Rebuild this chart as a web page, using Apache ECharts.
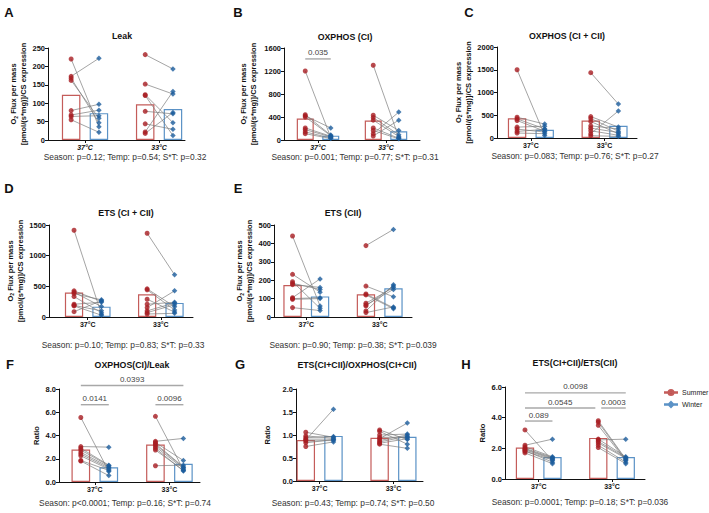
<!DOCTYPE html>
<html>
<head>
<meta charset="utf-8">
<script src="https://cdn.jsdelivr.net/npm/echarts@6/dist/echarts.min.js"></script>
<style>
html, body { margin: 0; padding: 0; background: #fff; }
#main { width: 709px; height: 513px; }
</style>
</head>
<body>
<div id="main"></div>
<script>
// categories
var cats = ['37°C', '33°C'];

// A - Leak (paired: summer[i] -> winter[i])
var summer37A = [220, 173, 168, 162, 80, 68, 64, 55];
var winter37A = [36, 222, 47, 59, 97, 81, 66, 21];
var summer33A = [232, 152, 123, 121, 78, 44, 22, 18];
var winter33A = [193, 125, 47, 12, 71, 29, 132, 75];
var barSummerA = [123, 97];
var barWinterA = [73, 84];

// B - OXPHOS (CI)
var summer37B = [1200, 440, 420, 400, 210, 180, 140, 110];
var winter37B = [45, 85, 210, 75, 65, 55, 35, 25];
var summer33B = [1300, 430, 390, 345, 210, 165, 110, 70];
var winter33B = [45, 165, 90, 60, 30, 20, 485, 345];
var barSummerB = [375, 340];
var barWinterB = [76, 150];

// C - OXPHOS (CI + CII)
var summer37C = [1500, 457, 420, 384, 239, 196, 145, 109];
var winter37C = [55, 305, 200, 150, 260, 130, 190, 95];
var summer33C = [1435, 471, 428, 362, 268, 217, 159, 94, 51];
var winter33C = [745, 240, 150, 95, 200, 120, 60, 595, 35];
var barSummerC = [435, 384];
var barWinterC = [181, 268];

// D - ETS (CI + CII)
var summer37D = [1415, 426, 404, 380, 333, 208, 190, 180, 87];
var winter37D = [45, 255, 170, 280, 70, 240, 100, 30, 265];
var summer33D = [1366, 459, 443, 290, 208, 153, 100, 71, 49];
var winter33D = [689, 169, 115, 80, 240, 426, 230, 200, 60];
var barSummerD = [400, 372];
var barWinterD = [169, 230];

// E - ETS (CII)
var summer37E = [440, 232, 192, 183, 176, 105, 100, 96, 51];
var winter37E = [60, 135, 47, 150, 161, 207, 105, 100, 35];
var summer33E = [388, 168, 125, 120, 75, 65, 60, 33, 24];
var winter33E = [476, 110, 50, 45, 160, 150, 168, 175, 55];
var barSummerE = [174, 123];
var barWinterE = [112, 156];

// F - OXPHOS(CI)/Leak
var summer37F = [5.55, 3.05, 2.9, 2.75, 2.55, 2.4, 2.25, 1.85, 1.8];
var winter37F = [0.9, 3.0, 1.45, 1.4, 1.3, 1.2, 1.1, 1.0, 0.55];
var summer33F = [5.65, 3.5, 3.4, 3.3, 3.2, 3.05, 2.9, 2.75, 1.4];
var winter33F = [1.05, 3.75, 1.85, 1.3, 1.25, 1.15, 0.95, 1.0, 1.45];
var barSummerF = [2.8, 3.22];
var barWinterF = [1.27, 1.56];

// G - ETS(CI+CII)/OXPHOS(CI+CII)
var summer37G = [1.06, 0.98, 0.94, 0.91, 0.89, 0.87, 0.83, 0.75];
var winter37G = [0.95, 0.93, 0.97, 0.91, 1.56, 0.88, 0.9, 0.85];
var summer33G = [1.11, 1.08, 1.0, 0.95, 0.92, 0.88, 0.85, 0.82, 0.8];
var winter33G = [0.9, 0.8, 1.02, 0.95, 1.26, 1.0, 0.97, 0.92, 0.71];
var barSummerG = [0.89, 0.94];
var barWinterG = [0.98, 0.96];

// H - ETS(CI+CII)/ETS(CII)
var summer37H = [3.2, 2.2, 2.1, 2.0, 1.95, 1.9, 1.85, 1.8, 1.7];
var winter37H = [1.2, 2.6, 1.45, 1.4, 1.35, 1.3, 1.1, 1.25, 1.0];
var summer33H = [3.8, 3.7, 3.5, 2.6, 2.55, 2.45, 2.35, 2.2, 2.05];
var winter33H = [1.3, 1.25, 1.2, 1.45, 2.6, 1.4, 1.35, 1.1, 1.0];
var barSummerH = [2.05, 2.68];
var barWinterH = [1.43, 1.43];

// significance brackets: [from, to, y, label]
var bracketsB = [['S37', 'W37', 1410, '0.035']];
var bracketsF = [['S37', 'W33', 8.3, '0.0393'], ['S37', 'W37', 6.65, '0.0141'], ['S33', 'W33', 6.65, '0.0096']];
var bracketsH = [['S37', 'W33', 5.62, '0.0098'], ['S37', 'S33<', 4.63, '0.0545'], ['S33>', 'W33', 4.63, '0.0003'], ['S37', 'W37', 3.78, '0.089']];

var statsA = 'Season: p=0.12; Temp: p=0.54; S*T: p=0.32';
var statsB = 'Season: p=0.001; Temp: p=0.77; S*T: p=0.31';
var statsC = 'Season: p=0.083; Temp: p=0.76; S*T: p=0.27';
var statsD = 'Season: p=0.10; Temp: p=0.83; S*T: p=0.33';
var statsE = 'Season: p=0.90; Temp: p=0.38; S*T: p=0.039';
var statsF = 'Season: p<0.0001; Temp: p=0.16; S*T: p=0.74';
var statsG = 'Season: p=0.43; Temp: p=0.74; S*T: p=0.50';
var statsH = 'Season: p=0.0001; Temp: p=0.18; S*T: p=0.036';

var FONT = '"Liberation Sans", Arial, Helvetica, sans-serif';
var RED_PT = '#a71d22', RED_BAR = '#c45c5a';
var BLUE_PT = '#1c5d9c', BLUE_BAR = '#5b92c6';
var LINK = '#7d7d7d';
var FLUX = '{b|O}{s|2}{b| Flux per mass}\n{b|[pmol/(s*mg)]/CS expression}';

var off = 0.1875; // bar centre offset: barWidth 25%, barGap 50%
function xOf(key) {
    var base = (key.charAt(2) === '7' ? 0 : 1) + (key.charAt(0) === 'S' ? -off : off);
    if (key.charAt(3) === '<') base -= 0.04;
    if (key.charAt(3) === '>') base += 0.04;
    return base;
}

var panels = [
    {tag: 'A', title: 'Leak', stats: statsA, s37: summer37A, w37: winter37A, s33: summer33A, w33: winter33A, bs: barSummerA, bw: barWinterA,
        yMax: 250, yStep: 50, name: FLUX, box: [48, 48, 137, 92], xr: [-0.5, 1.35], titleAt: [122, 36], statsAt: [125, 157], tagAt: [9, 12], gap: 15, italic: true},
    {tag: 'B', title: 'OXPHOS (CI)', stats: statsB, s37: summer37B, w37: winter37B, s33: summer33B, w33: winter33B, bs: barSummerB, bw: barWinterB,
        yMax: 1600, yStep: 400, name: FLUX, box: [284, 48, 136, 92], xr: [-0.5, 1.5], titleAt: [345, 37], statsAt: [355, 157], tagAt: [238, 12], gap: 26, italic: true, br: bracketsB},
    {tag: 'C', title: 'OXPHOS (CI + CII)', stats: statsC, s37: summer37C, w37: winter37C, s33: summer33C, w33: winter33C, bs: barSummerC, bw: barWinterC,
        yMax: 2000, yStep: 500, name: FLUX, box: [497, 47, 140, 91], xr: [-0.46, 1.44], titleAt: [567, 36], statsAt: [575, 156], tagAt: [469, 12], gap: 23},
    {tag: 'D', title: 'ETS (CI + CII)', stats: statsD, s37: summer37D, w37: winter37D, s33: summer33D, w33: winter33D, bs: barSummerD, bw: barWinterD,
        yMax: 1500, yStep: 500, name: FLUX, box: [49, 225, 144, 92], xr: [-0.53, 1.44], titleAt: [126, 213], statsAt: [123, 345], tagAt: [9, 188], gap: 16},
    {tag: 'E', title: 'ETS (CII)', stats: statsE, s37: summer37E, w37: winter37E, s33: summer33E, w33: winter33E, bs: barSummerE, bw: barWinterE,
        yMax: 500, yStep: 100, name: FLUX, box: [274, 225, 138, 92], xr: [-0.44, 1.44], titleAt: [343, 213], statsAt: [353, 345], tagAt: [238, 188], gap: 17},
    {tag: 'F', title: 'OXPHOS(CI)/Leak', stats: statsF, s37: summer37F, w37: winter37F, s33: summer33F, w33: winter33F, bs: barSummerF, bw: barWinterF,
        yMax: 8, yStep: 2, name: 'Ratio', ratio: true, box: [59, 389, 141, 93], xr: [-0.48, 1.41], titleAt: [132, 365], statsAt: [125, 503], tagAt: [10, 364], gap: 14, br: bracketsF},
    {tag: 'G', title: 'ETS(CI+CII)/OXPHOS(CI+CII)', stats: statsG, s37: summer37G, w37: winter37G, s33: summer33G, w33: winter33G, bs: barSummerG, bw: barWinterG,
        yMax: 2, yStep: 0.5, name: 'Ratio', ratio: true, box: [296, 389, 127, 92], xr: [-0.32, 1.4], titleAt: [357, 365], statsAt: [353, 503], tagAt: [240, 364], gap: 24},
    {tag: 'H', title: 'ETS(CI+CII)/ETS(CII)', stats: statsH, s37: summer37H, w37: winter37H, s33: summer33H, w33: winter33H, bs: barSummerH, bw: barWinterH,
        yMax: 6, yStep: 2, name: 'Ratio', ratio: true, box: [505, 387, 140, 92], xr: [-0.46, 1.45], titleAt: [575, 363], statsAt: [580, 502], tagAt: [466, 364], gap: 17, br: bracketsH}
];

function pairLine(params, api) {
    var a = api.coord([api.value(0), api.value(1)]);
    var b = api.coord([api.value(2), api.value(3)]);
    return {type: 'line', shape: {x1: a[0], y1: a[1], x2: b[0], y2: b[1]},
        style: {stroke: LINK, lineWidth: 0.7}};
}

function bracketDraw(labels) {
    return function (params, api) {
        var a = api.coord([api.value(0), api.value(2)]);
        var b = api.coord([api.value(1), api.value(2)]);
        return {type: 'group', children: [
            {type: 'line', shape: {x1: a[0], y1: a[1], x2: b[0], y2: b[1]},
                style: {stroke: '#a8a8a8', lineWidth: 1.4}},
            {type: 'text', x: (a[0] + b[0]) / 2, y: a[1] - 2,
                style: {text: labels[params.dataIndex], fill: '#444', font: '8px ' + FONT, align: 'center', verticalAlign: 'bottom'}}
        ]};
    };
}

var grids = [], xAxes = [], yAxes = [], series = [], texts = [];

panels.forEach(function (p, i) {
    grids.push({left: p.box[0], top: p.box[1], width: p.box[2], height: p.box[3]});
    xAxes.push({
        gridIndex: i, type: 'value', min: p.xr[0], max: p.xr[1],
        axisLine: {lineStyle: {color: '#111', width: 1}},
        axisTick: {customValues: [0, 1], length: 3, lineStyle: {color: '#111'}},
        axisLabel: {customValues: [0, 1], formatter: function (v) { return cats[Math.round(v)]; },
            fontSize: 7, fontWeight: 'bold', fontStyle: p.italic ? 'italic' : 'normal', color: '#111', margin: 4, fontFamily: FONT},
        splitLine: {show: false}
    });
    yAxes.push({
        gridIndex: i, type: 'value', min: 0, max: p.yMax, interval: p.yStep,
        axisLine: {show: true, onZero: false, lineStyle: {color: '#111', width: 1}},
        axisTick: {show: true, length: 3, lineStyle: {color: '#111'}},
        axisLabel: {fontSize: 7.5, fontWeight: 'bold', color: '#111', margin: 3, fontFamily: FONT,
            formatter: p.ratio ? function (v) { return v.toFixed(1); } : function (v) { return String(v); }},
        splitLine: {show: false},
        name: p.name, nameLocation: 'middle', nameRotate: 90, nameGap: p.gap,
        nameTextStyle: {fontSize: 7.5, fontWeight: 'bold', color: '#111', lineHeight: 10, fontFamily: FONT,
            rich: {
                b: {fontSize: 7.5, fontWeight: 'bold', color: '#111', lineHeight: 10, fontFamily: FONT},
                s: {fontSize: 5, fontWeight: 'bold', color: '#111', lineHeight: 10, fontFamily: FONT, padding: [4, 0, 0, 0]}
            }}
    });

    var barStyle = function (c) { return {color: 'rgba(255,255,255,0)', borderColor: c, borderWidth: 1.2}; };
    series.push({type: 'bar', name: 'Summer', xAxisIndex: i, yAxisIndex: i, barWidth: '25%', barGap: '50%', z: 1, silent: true,
        itemStyle: barStyle(RED_BAR), data: [[0, p.bs[0]], [1, p.bs[1]]]});
    series.push({type: 'bar', name: 'Winter', xAxisIndex: i, yAxisIndex: i, barWidth: '25%', barGap: '50%', z: 1, silent: true,
        itemStyle: barStyle(BLUE_BAR), data: [[0, p.bw[0]], [1, p.bw[1]]]});

    var pairs = [];
    p.s37.forEach(function (v, j) { pairs.push([-off, v, off, p.w37[j]]); });
    p.s33.forEach(function (v, j) { pairs.push([1 - off, v, 1 + off, p.w33[j]]); });
    series.push({type: 'custom', xAxisIndex: i, yAxisIndex: i, z: 2, silent: true, renderItem: pairLine,
        encode: {x: [0, 2], y: [1, 3]}, data: pairs});

    series.push({type: 'scatter', name: 'Summer', xAxisIndex: i, yAxisIndex: i, z: 3, symbol: 'circle', symbolSize: 5,
        itemStyle: {color: RED_PT},
        data: p.s37.map(function (v) { return [-off, v]; }).concat(p.s33.map(function (v) { return [1 - off, v]; }))});
    series.push({type: 'scatter', name: 'Winter', xAxisIndex: i, yAxisIndex: i, z: 3, symbol: 'diamond', symbolSize: 5.5,
        itemStyle: {color: BLUE_PT},
        data: p.w37.map(function (v) { return [off, v]; }).concat(p.w33.map(function (v) { return [1 + off, v]; }))});

    if (p.br) {
        series.push({type: 'custom', xAxisIndex: i, yAxisIndex: i, z: 4, silent: true, clip: false,
            renderItem: bracketDraw(p.br.map(function (b) { return b[3]; })),
            encode: {x: [0, 1], y: 2},
            data: p.br.map(function (b) { return [xOf(b[0]), xOf(b[1]), b[2]]; })});
    }

    texts.push({type: 'text', x: p.tagAt[0], y: p.tagAt[1],
        style: {text: p.tag, font: 'bold 13px ' + FONT, fill: '#111', align: 'center', verticalAlign: 'middle'}});
    texts.push({type: 'text', x: p.titleAt[0], y: p.titleAt[1],
        style: {text: p.title, font: 'bold 8.8px ' + FONT, fill: '#111', align: 'center', verticalAlign: 'middle'}});
    texts.push({type: 'text', x: p.statsAt[0], y: p.statsAt[1],
        style: {text: p.stats, font: '8.4px ' + FONT, fill: '#333', align: 'center', verticalAlign: 'middle'}});
});

var chart = echarts.init(document.getElementById('main'), null, {renderer: 'svg'});
chart.setOption({
    animation: false,
    backgroundColor: '#fff',
    textStyle: {fontFamily: FONT},
    grid: grids,
    xAxis: xAxes,
    yAxis: yAxes,
    legend: {
        orient: 'vertical', left: 664, top: 389, padding: 0, itemGap: 5, itemWidth: 12, itemHeight: 5,
        textStyle: {fontSize: 7, color: '#222', fontFamily: FONT},
        data: [
            {name: 'Summer', icon: 'path://M0,2.2h12v0.6h-12z M8.5,2.5a2.5,2.5 0 1,1 -5,0a2.5,2.5 0 1,1 5,0z', itemStyle: {color: RED_PT}},
            {name: 'Winter', icon: 'path://M0,2.2h12v0.6h-12z M6,0 L8.5,2.5 L6,5 L3.5,2.5z', itemStyle: {color: BLUE_PT}}
        ]
    },
    graphic: texts,
    series: series
});
</script>
</body>
</html>
